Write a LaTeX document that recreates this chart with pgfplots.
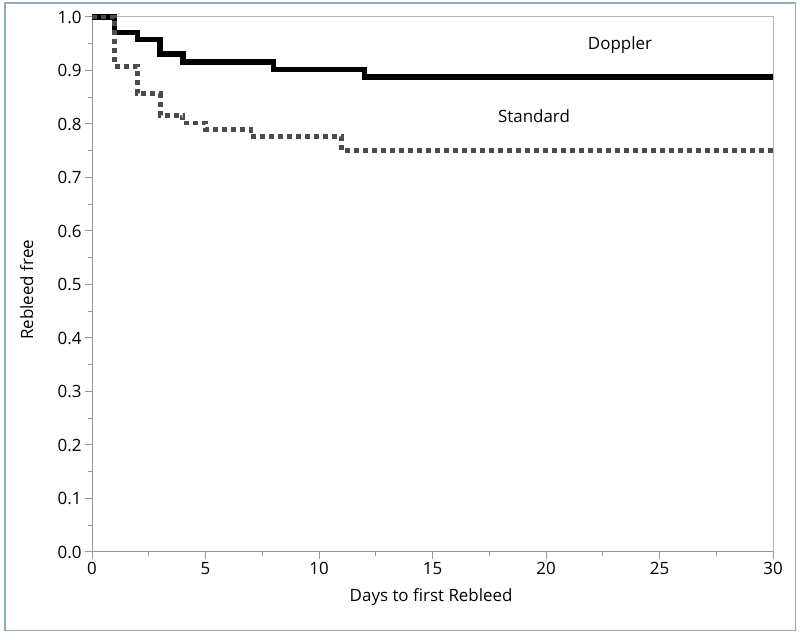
\documentclass[border=0pt]{standalone}
\usepackage{fontspec}
\setmainfont{Open Sans}
\usepackage{pgfplots}
\pgfplotsset{compat=1.18}
\definecolor{framec}{RGB}{140,172,188}
\definecolor{axc}{RGB}{150,150,150}
\definecolor{stdc}{RGB}{75,75,75}
\newcommand{\fs}{\fontsize{17}{19}\selectfont}
\begin{document}
\begin{tikzpicture}[x=1bp,y=1bp]
\path[fill=white] (0,0) rectangle (800,640);
\draw[framec, line width=1.5bp] (5,9.3) rectangle (795.5,637);
\begin{axis}[
  at={(92bp,88bp)}, anchor=south west,
  scale only axis, width=681bp, height=535bp,
  xmin=0, xmax=30, ymin=0, ymax=1,
  xtick={0,5,...,30}, ytick={0,0.1,...,1.0},
  minor xtick={2.5,7.5,...,27.5}, minor ytick={0.05,0.15,...,0.95},
  tick align=outside, tick pos=left,
  major tick length=7bp, minor tick length=4bp,
  axis line style={axc, line width=1bp},
  every tick/.style={axc, line width=1bp},
  axis x line*=bottom, axis y line*=left,
  /pgf/number format/assume math mode=true,
  yticklabel style={/pgf/number format/fixed, /pgf/number format/fixed zerofill, /pgf/number format/precision=1, font=\fs, black},
  xticklabel style={font=\fs, black},
  xlabel={Days to first Rebleed}, ylabel={Rebleed free},
  xlabel style={font=\fs, at={(axis description cs:0.498,-0.085)}, anchor=center},
  ylabel style={font=\fs, at={(axis description cs:-0.096,0.49)}, anchor=center, rotate=0},
  clip=false,
]
\draw[axc!70, line width=1bp] (axis cs:0,1) -- (axis cs:30,1) -- (axis cs:30,0);
\addplot[const plot, black, line width=5.5bp] coordinates {
(0,1) (1,0.971) (2,0.958) (3,0.931) (4,0.916) (8,0.902) (12,0.888) (30,0.888)
};
\addplot[const plot, stdc, line width=4.8bp, dash pattern=on 5bp off 4bp] coordinates {
(0,1) (1,0.908) (2,0.857) (3,0.816) (4,0.802) (5,0.789) (7,0.776) (11,0.750) (30,0.750)
};
\node[font=\fs] at (axis cs:23.26,0.948) {Doppler};
\node[font=\fs] at (axis cs:19.47,0.815) {Standard};
\end{axis}
\end{tikzpicture}
\end{document}
